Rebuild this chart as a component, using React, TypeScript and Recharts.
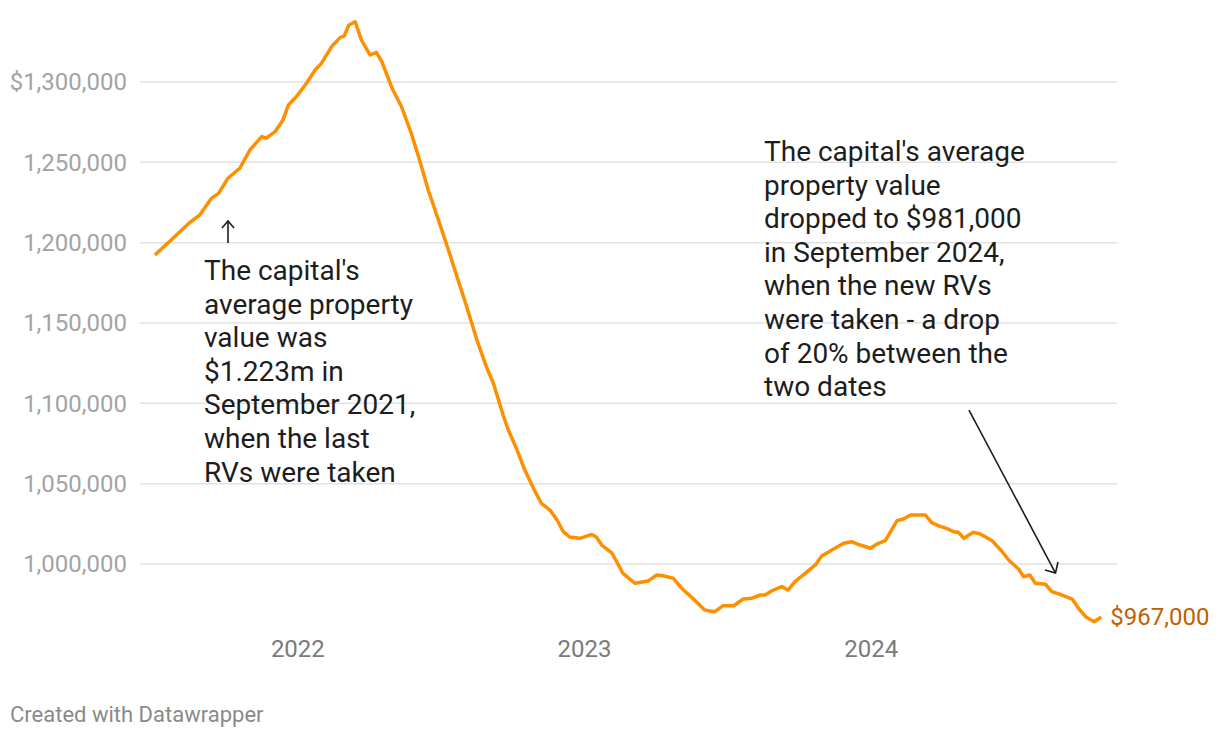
import { CartesianGrid, Line, LineChart, XAxis, YAxis } from 'recharts'

// roughly weekly
const dates = [
  '2021-07-03', '2021-07-26', '2021-08-16', '2021-08-29', '2021-09-13', '2021-09-22',
  '2021-10-04', '2021-10-19', '2021-11-01', '2021-11-16', '2021-11-22', '2021-12-03',
  '2021-12-13', '2021-12-20', '2021-12-30', '2022-01-12', '2022-01-23', '2022-01-31',
  '2022-02-13', '2022-02-24', '2022-03-01', '2022-03-07', '2022-03-15', '2022-03-23',
  '2022-04-03', '2022-04-11', '2022-04-18', '2022-05-02', '2022-05-13', '2022-05-24',
  '2022-06-05', '2022-06-16', '2022-06-29', '2022-07-11', '2022-07-24', '2022-08-04',
  '2022-08-17', '2022-08-29', '2022-09-07', '2022-09-20', '2022-09-26', '2022-10-07',
  '2022-10-17', '2022-10-28', '2022-11-07', '2022-11-18', '2022-11-27', '2022-12-05',
  '2022-12-13', '2022-12-26', '2023-01-10', '2023-01-16', '2023-01-23', '2023-02-05',
  '2023-02-19', '2023-03-06', '2023-03-23', '2023-04-03', '2023-04-11', '2023-04-24',
  '2023-05-07', '2023-05-22', '2023-06-03', '2023-06-16', '2023-06-26', '2023-07-10',
  '2023-07-22', '2023-08-02', '2023-08-13', '2023-08-19', '2023-08-27', '2023-09-09',
  '2023-09-17', '2023-09-26', '2023-10-09', '2023-10-22', '2023-10-30', '2023-11-12',
  '2023-11-27', '2023-12-07', '2023-12-18', '2023-12-31', '2024-01-08', '2024-01-19',
  '2024-02-03', '2024-02-11', '2024-02-20', '2024-03-10', '2024-03-18', '2024-03-27',
  '2024-04-06', '2024-04-15', '2024-04-21', '2024-04-28', '2024-05-10', '2024-05-19',
  '2024-06-03', '2024-06-15', '2024-06-24', '2024-07-07', '2024-07-13', '2024-07-21',
  '2024-07-28', '2024-08-10', '2024-08-18', '2024-08-31', '2024-09-13', '2024-09-21',
  '2024-09-30', '2024-10-11', '2024-10-20',
]

const values = [
  1192300, 1202700, 1212400, 1217200, 1227600, 1230700,
  1240100, 1246300, 1257700, 1266000, 1265000, 1269100,
  1276300, 1285700, 1290800, 1299200, 1307500, 1311600,
  1322000, 1327800, 1328600, 1335500, 1337500, 1326100,
  1316800, 1318500, 1312600, 1295000, 1284600, 1270100,
  1251400, 1232800, 1214100, 1196500, 1176800, 1160100,
  1139400, 1122800, 1112500, 1091700, 1083400, 1071000,
  1058500, 1047100, 1037800, 1033600, 1027400, 1020100,
  1016800, 1016000, 1018400, 1016800, 1011800, 1006700,
  994200, 988000, 989400, 993200, 992700, 991100,
  983800, 977200, 971400, 970300, 974000, 974000,
  978200, 978700, 980700, 980700, 983200, 985900,
  983800, 989000, 994200, 999400, 1005000, 1008700,
  1012900, 1013900, 1011800, 1009800, 1012300, 1014500,
  1027000, 1028000, 1030500, 1030500, 1025700, 1023700,
  1022200, 1020100, 1019700, 1016000, 1019700, 1018700,
  1014500, 1008100, 1002500, 996700, 992100, 993200,
  988000, 987400, 982800, 980700, 978200, 972400,
  967200, 964100, 967000,
]

const yTicks = [1000000, 1050000, 1100000, 1150000, 1200000, 1250000, 1300000]
const yearTicks = ['2022-01-01', '2023-01-01', '2024-01-01']
const xDomain = ['2021-06-14', '2024-11-09']
const yDomain = [960000, 1340000]

const endLabel = '$967,000'

const leftNote = [
  "The capital's",
  'average property',
  'value was',
  '$1.223m in',
  'September 2021,',
  'when the last',
  'RVs were taken',
]

const rightNote = [
  "The capital's average",
  'property value',
  'dropped to $981,000',
  'in September 2024,',
  'when the new RVs',
  'were taken - a drop',
  'of 20% between the',
  'two dates',
]

const FONT = 'Roboto, sans-serif'
const LINE_COLOR = '#fd8f00'

const toTime = (d: string) => Date.parse(d)

const data = dates.map((d, i) => ({ t: toTime(d), value: values[i] }))

function YTick({ y, payload }: any) {
  const v: number = payload.value
  const text = (v === 1300000 ? '$' : '') + v.toLocaleString('en-US')
  return (
    <text x={127} y={y} dy="0.35em" textAnchor="end" fill="#a3a3a3" fontSize={24} fontFamily={FONT}>
      {text}
    </text>
  )
}

function XTick({ x, payload }: any) {
  return (
    <text x={x} y={657} textAnchor="middle" fill="#7a7a7a" fontSize={24} fontFamily={FONT}>
      {new Date(payload.value).getUTCFullYear()}
    </text>
  )
}

function EndLabel({ x, y, index }: any) {
  if (index !== data.length - 1) return null
  return (
    <text x={x + 9} y={y} dy="0.35em" fill="#c25f00" fontSize={24} fontFamily={FONT}>
      {endLabel}
    </text>
  )
}

function Notes() {
  const lh = 33.6
  return (
    <svg
      width={1220}
      height={738}
      style={{ position: 'absolute', left: 0, top: 0, pointerEvents: 'none' }}
    >
      <g fill="#1d1d1d" fontSize={28} fontFamily={FONT}>
        {leftNote.map((s, i) => (
          <text key={s} x={204} y={280 + i * lh}>
            {s}
          </text>
        ))}
        {rightNote.map((s, i) => (
          <text key={s} x={764} y={161 + i * lh}>
            {s}
          </text>
        ))}
      </g>
      <g stroke="#1d1d1d" strokeWidth={1.6} fill="none">
        <line x1={228} y1={243} x2={228} y2={221} />
        <polyline points="222,228 228,221 234,228" />
        <line x1={969} y1={410} x2={1055.5} y2={573} />
        <polyline points="1045,570 1055.5,573 1058,562" />
      </g>
      <text x={10} y={722} fill="#8a8a8a" fontSize={22} fontFamily={FONT}>
        Created with Datawrapper
      </text>
    </svg>
  )
}

export default function App() {
  return (
    <div style={{ position: 'absolute', left: 0, top: 0, width: 1220, height: 738, background: '#fff' }}>
      <LineChart
        width={1220}
        height={738}
        data={data}
        margin={{ top: 17.73, right: 103, bottom: 69.73, left: 0 }}
      >
        <CartesianGrid vertical={false} horizontalValues={yTicks} stroke="#e2e2e2" strokeWidth={1.5} />
        <XAxis
          dataKey="t"
          type="number"
          domain={xDomain.map(toTime)}
          ticks={yearTicks.map(toTime)}
          tick={<XTick />}
          tickLine={false}
          axisLine={false}
          height={40}
          allowDataOverflow
        />
        <YAxis
          type="number"
          domain={yDomain}
          ticks={yTicks}
          tick={<YTick />}
          tickLine={false}
          axisLine={false}
          width={140}
          allowDataOverflow
        />
        <Line
          type="linear"
          dataKey="value"
          stroke={LINE_COLOR}
          strokeWidth={3.5}
          strokeLinejoin="round"
          dot={false}
          label={<EndLabel />}
          isAnimationActive={false}
        />
      </LineChart>
      <Notes />
    </div>
  )
}
